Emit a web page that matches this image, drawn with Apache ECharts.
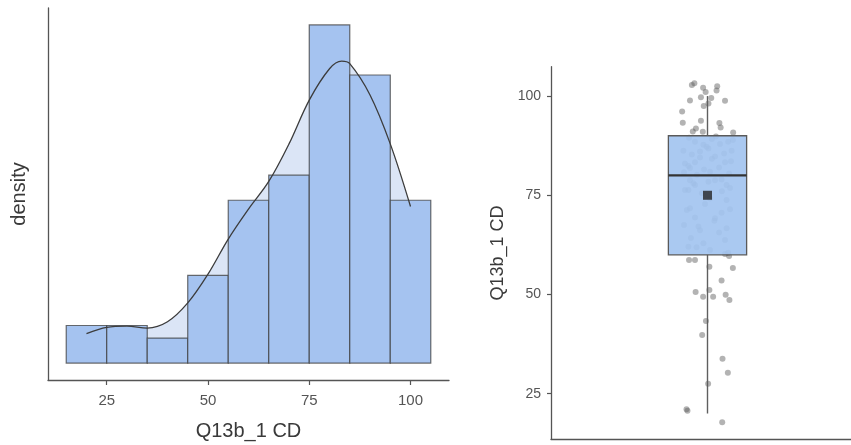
<!DOCTYPE html>
<html>
<head>
<meta charset="utf-8">
<script src="https://cdn.jsdelivr.net/npm/echarts@6/dist/echarts.min.js"></script>
<style>
  html, body { margin: 0; padding: 0; background: #fff; }
  #chart { width: 851px; height: 445px; }
</style>
</head>
<body>
<div id="chart"></div>
<script>
// Histogram of Q13b_1 CD: bins of width 10 starting at 15
const binStarts = [15, 25, 35, 45, 55, 65, 75, 85, 95];
const binCounts = [3, 3, 2, 7, 13, 15, 27, 23, 13];
const binWidth = 10;

// Kernel density estimate (x, density)
const kdeX = [20, 25, 30, 35, 40, 45, 50, 55, 60, 65, 70, 75, 80, 83, 85, 90, 95, 100];
const kdeY = [0.00222, 0.00269, 0.00278, 0.00264, 0.00311, 0.00453, 0.00670, 0.00934, 0.01160,
              0.01368, 0.01651, 0.01981, 0.02217, 0.02274, 0.02255, 0.02019, 0.01651, 0.01179];

const histTicks = [25, 50, 75, 100];

// Box plot summary: min whisker, Q1, median, Q3, max whisker; and the mean
const boxStats = [20, 60, 80, 90, 100];
const boxMean = 75;
const boxTicks = [25, 50, 75, 100];

// Jittered observations: horizontal offset (fraction of the panel band) and value
const jitterX = [
  -0.050, -0.042, -0.014, 0.031, -0.006, 0.029, -0.056, -0.021, 0.012, 0.056, 0.003,
  -0.012, -0.081, -0.079, -0.021, 0.038, 0.042, -0.037, -0.047, -0.015, 0.082,
  -0.059, -0.040, 0.056, 0.069, 0.006, 0.081, 0.045, 0.006, -0.038, -0.014, 0.018,
  0.058, 0.070, -0.005, -0.017, 0.048, 0.065, 0.002, -0.067, -0.064, 0.047,
  -0.040, -0.013, -0.003, 0.003, 0.040, 0.066, -0.077, 0.077, -0.072, -0.061, -0.040,
  0.056, 0.075, -0.056, -0.045, 0.003, 0.024, 0.045, 0.061, 0.072, -0.072, -0.061,
  -0.040, 0.061, -0.008, -0.066, -0.056, 0.072, 0.045, -0.040, 0.024, 0.022, 0.061,
  -0.029, -0.024, 0.056, -0.013, -0.061, -0.035, 0.008, 0.066,
  0.014, -0.059, -0.024, 0.053, 0.027, -0.050, 0.081, -0.024, 0.014, 0.037, -0.011,
  -0.075, 0.069, -0.034, 0.008, 0.046, -0.018, 0.024, -0.056, 0.008, -0.075, 0.037, -0.053
];
const jitterY = [
  102.8, 103.2, 102.1, 102.5, 101.0, 101.4, 98.9, 99.7, 99.5, 98.8, 98.1,
  97.5, 96.1, 93.3, 93.8, 93.2, 92.1, 91.8, 91.1, 91.0, 90.8,
  58.7, 58.7, 60.2, 59.7, 57.0, 56.7, 53.5, 51.1, 50.6, 49.4, 49.4,
  49.9, 48.6, 43.3, 39.8, 33.8, 30.3, 27.5, 21.1, 20.7, 17.8,
  88.5, 87.7, 87.2, 86.8, 87.9, 88.5, 86.2, 86.2, 83.0, 82.4, 83.3,
  83.3, 83.6, 78.8, 78.0, 78.4, 78.8, 79.0, 77.6, 76.8, 76.3, 76.3,
  77.6, 73.8, 72.8, 71.3, 71.7, 71.5, 70.6, 69.4, 69.2, 68.6, 66.7,
  67.1, 66.2, 63.7, 62.9, 62.0, 61.9, 61.2, 60.5,
  89.2, 89.5, 86.0, 85.5, 89.8, 85.3, 88.9, 84.5, 84.2, 82.0, 81.5,
  80.8, 80.5, 80.2, 80.9, 76.0, 75.5, 84.8, 81.9, 74.2, 67.5, 65.6, 64.2
];

const nObs = binCounts.reduce((a, b) => a + b, 0);
const binDensity = binCounts.map(c => c / (nObs * binWidth));
const maxDensity = Math.max(...binDensity);

const FONT = '"Liberation Sans", Arial, Helvetica, sans-serif';
const BAR_FILL = '#a5c3f0';
const AREA_FILL = '#dbe5f6';
const AXIS_COLOR = '#555';

const chart = echarts.init(document.getElementById('chart'), null, { renderer: 'canvas' });

const option = {
  animation: false,
  backgroundColor: '#fff',
  grid: [
    { left: 48, top: 8, width: 401, height: 372, outerBoundsMode: 'none' },
    { left: 551, top: 66.7, width: 300, height: 372.6, outerBoundsMode: 'none' }
  ],
  xAxis: [
    {
      gridIndex: 0, type: 'value', min: 10.5, max: 109.5,
      name: 'Q13b_1 CD', nameLocation: 'middle', nameGap: 41,
      nameTextStyle: { fontFamily: FONT, fontSize: 20, color: '#3a3a3a' },
      axisLine: { show: true, onZero: false, lineStyle: { color: AXIS_COLOR, width: 1.3 } },
      axisTick: { show: true, length: 5, customValues: histTicks, lineStyle: { color: AXIS_COLOR, width: 1.2 } },
      axisLabel: { customValues: histTicks, margin: 13, fontFamily: FONT, fontSize: 15, color: '#555' },
      splitLine: { show: false }
    },
    {
      // band centred on 0; the panel runs slightly past the right edge of the canvas
      gridIndex: 1, type: 'value', min: -0.5, max: -0.5 + 300 / 313,
      axisLine: { show: true, onZero: false, lineStyle: { color: AXIS_COLOR, width: 1.3 } },
      axisTick: { show: false },
      axisLabel: { show: false },
      splitLine: { show: false }
    }
  ],
  yAxis: [
    {
      gridIndex: 0, type: 'value', min: -0.05 * maxDensity, max: 1.05 * maxDensity,
      name: 'density', nameLocation: 'middle', nameGap: 19,
      nameTextStyle: { fontFamily: FONT, fontSize: 20, color: '#3a3a3a' },
      axisLine: { show: true, onZero: false, lineStyle: { color: AXIS_COLOR, width: 1.3 } },
      axisTick: { show: false },
      axisLabel: { show: false },
      splitLine: { show: false }
    },
    {
      gridIndex: 1, type: 'value', min: 13.5, max: 107.4,
      name: 'Q13b_1 CD', nameLocation: 'middle', nameGap: 44,
      nameTextStyle: { fontFamily: FONT, fontSize: 18, color: '#3a3a3a' },
      axisLine: { show: true, onZero: false, lineStyle: { color: AXIS_COLOR, width: 1.3 } },
      axisTick: { show: true, length: 4, customValues: boxTicks, lineStyle: { color: AXIS_COLOR, width: 1.2 } },
      axisLabel: { customValues: boxTicks, margin: 10, fontFamily: FONT, fontSize: 14, color: '#555' },
      splitLine: { show: false }
    }
  ],
  series: [
    // filled area under the density curve
    {
      type: 'line', xAxisIndex: 0, yAxisIndex: 0, z: 1,
      data: kdeX.map((x, i) => [x, kdeY[i]]),
      smooth: 0.35, symbol: 'none',
      lineStyle: { width: 0, opacity: 0 },
      areaStyle: { color: AREA_FILL, opacity: 1, origin: 0 },
      silent: true
    },
    // histogram bars
    {
      type: 'custom', xAxisIndex: 0, yAxisIndex: 0, z: 2,
      data: binStarts.map((s, i) => [s, s + binWidth, binDensity[i]]),
      encode: { x: [0, 1], y: 2 },
      renderItem: function (params, api) {
        const p0 = api.coord([api.value(0), api.value(2)]);
        const p1 = api.coord([api.value(1), 0]);
        return {
          type: 'rect',
          shape: { x: p0[0], y: p0[1], width: p1[0] - p0[0], height: p1[1] - p0[1] },
          style: { fill: BAR_FILL, stroke: 'rgba(60,60,60,0.75)', lineWidth: 1.2 }
        };
      }
    },
    // density curve outline
    {
      type: 'line', xAxisIndex: 0, yAxisIndex: 0, z: 3,
      data: kdeX.map((x, i) => [x, kdeY[i]]),
      smooth: 0.35, symbol: 'none',
      lineStyle: { color: '#3c3c3c', width: 1.3 },
      silent: true
    },
    // jittered observations
    {
      type: 'scatter', xAxisIndex: 1, yAxisIndex: 1, z: 2,
      data: jitterX.map((x, i) => [x, jitterY[i]]),
      symbol: 'circle', symbolSize: 6,
      itemStyle: { color: 'rgba(90,90,90,0.58)' },
      silent: true
    },
    // box and whiskers
    {
      type: 'custom', xAxisIndex: 1, yAxisIndex: 1, z: 3,
      data: [[0].concat(boxStats)],
      encode: { x: 0, y: [1, 2, 3, 4, 5] },
      renderItem: function (params, api) {
        const halfW = 0.125;
        const cx = api.value(0);
        const lo = api.coord([cx, api.value(1)]);
        const q1 = api.coord([cx, api.value(2)]);
        const md = api.coord([cx, api.value(3)]);
        const q3 = api.coord([cx, api.value(4)]);
        const hi = api.coord([cx, api.value(5)]);
        const left = api.coord([cx - halfW, api.value(3)])[0];
        const right = api.coord([cx + halfW, api.value(3)])[0];
        const whisker = { stroke: '#5f5f5f', lineWidth: 1.4 };
        return {
          type: 'group',
          children: [
            { type: 'line', shape: { x1: lo[0], y1: lo[1], x2: q1[0], y2: q1[1] }, style: whisker },
            { type: 'line', shape: { x1: q3[0], y1: q3[1], x2: hi[0], y2: hi[1] }, style: whisker },
            {
              type: 'rect',
              shape: { x: left, y: q3[1], width: right - left, height: q1[1] - q3[1] },
              style: { fill: 'rgba(163,196,240,0.92)', stroke: '#5a5a5a', lineWidth: 1.3 }
            },
            {
              type: 'line',
              shape: { x1: left, y1: md[1], x2: right, y2: md[1] },
              style: { stroke: '#333', lineWidth: 2.4 }
            }
          ]
        };
      }
    },
    // mean marker
    {
      type: 'scatter', xAxisIndex: 1, yAxisIndex: 1, z: 4,
      data: [[0, boxMean]],
      symbol: 'rect', symbolSize: 9,
      itemStyle: { color: '#262626' },
      silent: true
    }
  ]
};

chart.setOption(option);
</script>
</body>
</html>
